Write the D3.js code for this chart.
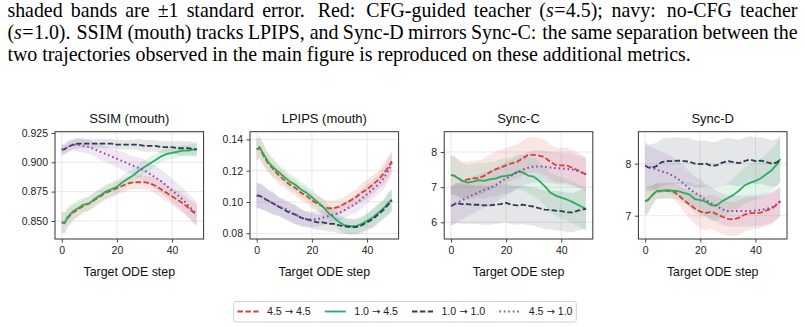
<!DOCTYPE html>
<html><head><meta charset="utf-8">
<script src="https://cdn.jsdelivr.net/npm/d3@7"></script>
<style>body{margin:0;background:#fff}svg{display:block}</style>
</head><body><svg id="c" width="805" height="327"></svg>
<script>
// ---------------- data ----------------
const steps = [0,1,2,4,6,8,10,12,14,16,18,20,22,24,26,28,30,32,34,36,38,40,42,44,46,48,49];
const seriesFrom = ["4.5","1.0","1.0","4.5"];
const seriesTo   = ["4.5","4.5","1.0","1.0"];
const panelTitles = ["SSIM (mouth)","LPIPS (mouth)","Sync-C","Sync-D"];
const xLabel = "Target ODE step";
const xTicks = [0,20,40];
const ssimTicks = [0.850,0.875,0.900,0.925];
const lpipsTicks = [0.08,0.10,0.12,0.14];
const syncCTicks = [6,7,8];
const syncDTicks = [7,8];

const ssimRed    = [0.849,0.848,0.852,0.857,0.860,0.863,0.865,0.868,0.871,0.874,0.876,0.878,0.880,0.882,0.883,0.883,0.883,0.882,0.880,0.877,0.874,0.871,0.868,0.865,0.861,0.857,0.855];
const ssimGreen  = [0.849,0.848,0.853,0.858,0.861,0.864,0.865,0.869,0.872,0.875,0.877,0.879,0.883,0.886,0.889,0.893,0.896,0.899,0.902,0.905,0.907,0.908,0.909,0.910,0.910,0.911,0.911];
const ssimNavy   = [0.911,0.911,0.913,0.915,0.916,0.916,0.916,0.916,0.916,0.916,0.916,0.915,0.915,0.915,0.915,0.915,0.914,0.914,0.914,0.913,0.913,0.913,0.912,0.912,0.912,0.911,0.911];
const ssimPurple = [0.911,0.911,0.913,0.915,0.915,0.914,0.913,0.911,0.909,0.907,0.905,0.903,0.901,0.899,0.897,0.895,0.893,0.890,0.887,0.884,0.880,0.876,0.872,0.868,0.863,0.858,0.856];
const ssimRedSe    = [0.009,0.009,0.008,0.007,0.006,0.006,0.006,0.006,0.006,0.006,0.006,0.006,0.006,0.006,0.006,0.006,0.006,0.006,0.007,0.007,0.007,0.007,0.008,0.008,0.008,0.009,0.009];
const ssimGreenSe  = [0.009,0.009,0.008,0.007,0.007,0.006,0.006,0.006,0.006,0.006,0.006,0.006,0.006,0.006,0.006,0.006,0.006,0.006,0.005,0.005,0.005,0.005,0.005,0.005,0.005,0.005,0.005];
const ssimNavySe   = [0.004,0.004,0.004,0.004,0.004,0.004,0.004,0.004,0.004,0.004,0.004,0.004,0.004,0.004,0.004,0.005,0.005,0.005,0.005,0.005,0.005,0.005,0.006,0.006,0.006,0.006,0.006];
const ssimPurpleSe = [0.005,0.005,0.005,0.005,0.006,0.006,0.006,0.006,0.007,0.007,0.007,0.007,0.008,0.008,0.008,0.009,0.009,0.009,0.010,0.010,0.010,0.010,0.010,0.010,0.010,0.010,0.010];

const lpipsRed    = [0.1335,0.1345,0.131,0.125,0.121,0.117,0.114,0.111,0.109,0.106,0.104,0.101,0.099,0.097,0.096,0.096,0.097,0.099,0.101,0.103,0.106,0.108,0.111,0.114,0.118,0.123,0.126];
const lpipsGreen  = [0.1335,0.1352,0.132,0.126,0.122,0.119,0.116,0.113,0.111,0.108,0.106,0.103,0.100,0.097,0.093,0.090,0.087,0.085,0.0845,0.0845,0.086,0.088,0.090,0.093,0.096,0.100,0.1015];
const lpipsNavy   = [0.104,0.104,0.103,0.101,0.099,0.097,0.095,0.093,0.092,0.090,0.089,0.088,0.087,0.087,0.086,0.086,0.085,0.0845,0.084,0.084,0.085,0.087,0.089,0.092,0.095,0.099,0.101];
const lpipsPurple = [0.104,0.104,0.103,0.101,0.099,0.097,0.096,0.094,0.092,0.090,0.089,0.089,0.089,0.090,0.091,0.092,0.093,0.095,0.097,0.099,0.102,0.105,0.108,0.111,0.115,0.121,0.125];
const lpipsRedSe    = [0.007,0.007,0.007,0.006,0.006,0.006,0.005,0.005,0.005,0.005,0.005,0.005,0.005,0.005,0.005,0.005,0.005,0.005,0.005,0.005,0.006,0.006,0.006,0.006,0.007,0.007,0.007];
const lpipsGreenSe  = [0.007,0.007,0.007,0.006,0.006,0.005,0.005,0.005,0.005,0.005,0.005,0.005,0.005,0.005,0.005,0.005,0.005,0.005,0.005,0.005,0.005,0.005,0.006,0.006,0.006,0.007,0.007];
const lpipsNavySe   = [0.008,0.008,0.008,0.007,0.007,0.006,0.006,0.006,0.006,0.005,0.005,0.005,0.005,0.005,0.005,0.005,0.005,0.005,0.005,0.005,0.005,0.005,0.006,0.006,0.006,0.007,0.007];
const lpipsPurpleSe = [0.008,0.008,0.008,0.007,0.007,0.006,0.006,0.006,0.006,0.006,0.005,0.005,0.005,0.005,0.005,0.005,0.005,0.005,0.005,0.006,0.006,0.006,0.006,0.006,0.007,0.007,0.007];

const syncCRed    = [7.35,7.33,7.30,7.18,7.22,7.25,7.26,7.32,7.42,7.50,7.56,7.62,7.68,7.72,7.82,7.92,7.92,7.90,7.85,7.72,7.63,7.62,7.62,7.55,7.48,7.40,7.36];
const syncCGreen  = [7.35,7.33,7.28,7.18,7.13,7.16,7.20,7.18,7.22,7.24,7.30,7.32,7.35,7.44,7.42,7.33,7.30,7.18,7.03,6.85,6.76,6.70,6.65,6.58,6.50,6.42,6.37];
const syncCNavy   = [6.47,6.50,6.55,6.52,6.52,6.50,6.50,6.48,6.48,6.50,6.52,6.55,6.50,6.48,6.50,6.47,6.45,6.40,6.36,6.35,6.33,6.32,6.28,6.28,6.33,6.37,6.38];
const syncCPurple = [6.47,6.50,6.55,6.62,6.70,6.78,6.85,6.92,6.97,7.05,7.15,7.25,7.33,7.42,7.50,7.55,7.59,7.59,7.58,7.56,7.54,7.53,7.52,7.50,7.46,7.40,7.37];
const syncCRedSe    = [0.55,0.55,0.54,0.52,0.50,0.50,0.50,0.50,0.50,0.50,0.50,0.50,0.50,0.50,0.50,0.50,0.50,0.50,0.50,0.50,0.50,0.50,0.50,0.50,0.50,0.50,0.50];
const syncCGreenSe  = [0.55,0.55,0.54,0.52,0.50,0.50,0.50,0.50,0.50,0.50,0.50,0.50,0.50,0.50,0.50,0.52,0.54,0.55,0.56,0.57,0.58,0.58,0.59,0.60,0.60,0.60,0.60];
const syncCNavySe   = [0.57,0.57,0.57,0.56,0.56,0.55,0.55,0.55,0.55,0.55,0.55,0.55,0.55,0.55,0.55,0.55,0.55,0.55,0.55,0.55,0.56,0.56,0.56,0.56,0.56,0.56,0.56];
const syncCPurpleSe = [0.55,0.55,0.55,0.54,0.53,0.52,0.51,0.50,0.50,0.49,0.48,0.47,0.46,0.45,0.45,0.45,0.45,0.45,0.45,0.45,0.45,0.45,0.45,0.45,0.45,0.45,0.45];

const syncDRed    = [7.28,7.30,7.36,7.47,7.47,7.48,7.47,7.40,7.30,7.22,7.14,7.08,7.05,7.08,7.03,6.98,6.94,6.93,6.96,7.02,7.05,7.05,7.06,7.10,7.14,7.22,7.28];
const syncDGreen  = [7.28,7.30,7.36,7.47,7.48,7.49,7.48,7.47,7.44,7.41,7.32,7.30,7.27,7.20,7.20,7.28,7.34,7.40,7.48,7.58,7.63,7.67,7.72,7.80,7.88,8.00,8.09];
const syncDNavy   = [7.96,7.93,7.92,7.95,8.03,8.05,8.05,8.06,8.05,8.04,8.00,7.99,8.00,7.96,7.97,8.02,8.05,8.03,8.01,8.05,8.08,8.05,8.06,8.03,8.00,8.03,8.09];
const syncDPurple = [7.96,7.95,7.93,7.89,7.85,7.82,7.77,7.70,7.62,7.52,7.44,7.38,7.30,7.24,7.18,7.12,7.09,7.09,7.09,7.09,7.09,7.10,7.11,7.13,7.16,7.23,7.28];
const syncDRedSe    = [0.25,0.25,0.20,0.15,0.15,0.15,0.15,0.18,0.22,0.26,0.30,0.32,0.33,0.33,0.33,0.33,0.33,0.33,0.33,0.32,0.32,0.30,0.30,0.30,0.30,0.28,0.28];
const syncDGreenSe  = [0.28,0.27,0.22,0.15,0.15,0.15,0.15,0.17,0.20,0.24,0.27,0.30,0.30,0.30,0.30,0.30,0.30,0.32,0.33,0.35,0.36,0.37,0.38,0.39,0.40,0.42,0.42];
const syncDNavySe   = [0.45,0.45,0.45,0.45,0.45,0.45,0.45,0.45,0.45,0.45,0.45,0.45,0.45,0.45,0.45,0.45,0.45,0.45,0.45,0.45,0.45,0.45,0.45,0.45,0.45,0.45,0.45];
const syncDPurpleSe = [0.40,0.40,0.40,0.39,0.38,0.37,0.36,0.35,0.34,0.33,0.32,0.32,0.31,0.31,0.30,0.30,0.30,0.30,0.30,0.30,0.30,0.30,0.30,0.30,0.30,0.30,0.30];

const captionLines = [
  ["shaded","bands","are","\u00b11","standard","error.","Red:","CFG-guided","teacher","(|s|=4.5);","navy:","no-CFG","teacher"],
  ["(|s|=1.0).","SSIM","(mouth)","tracks","LPIPS,","and","Sync-D","mirrors","Sync-C:","the","same","separation","between","the"],
  ["two","trajectories","observed","in","the","main","figure","is","reproduced","on","these","additional","metrics."]
];

// ---------------- styles / layout ----------------
const colors = ["#d8412f","#27ae60","#2c3e50","#8e44ad"];
const dashes = ["5.5,2.4",null,"5.5,2.4","1.6,2.9"];
const lineW = [1.8,1.8,1.8,2.0];
const sansFont = "'Liberation Sans', Arial, Helvetica, sans-serif";
const serifFont = "'Liberation Serif', 'Times New Roman', Times, serif";

const panels = [
  {title:panelTitles[0], domain:[0.8346,0.9261], ticks:ssimTicks, fmt:d3.format(".3f"),
   mean:[ssimRed,ssimGreen,ssimNavy,ssimPurple], se:[ssimRedSe,ssimGreenSe,ssimNavySe,ssimPurpleSe]},
  {title:panelTitles[1], domain:[0.07636,0.1449], ticks:lpipsTicks, fmt:d3.format(".2f"),
   mean:[lpipsRed,lpipsGreen,lpipsNavy,lpipsPurple], se:[lpipsRedSe,lpipsGreenSe,lpipsNavySe,lpipsPurpleSe]},
  {title:panelTitles[2], domain:[5.525,8.578], ticks:syncCTicks, fmt:d3.format("d"),
   mean:[syncCRed,syncCGreen,syncCNavy,syncCPurple], se:[syncCRedSe,syncCGreenSe,syncCNavySe,syncCPurpleSe]},
  {title:panelTitles[3], domain:[6.552,8.615], ticks:syncDTicks, fmt:d3.format("d"),
   mean:[syncDRed,syncDGreen,syncDNavy,syncDPurple], se:[syncDRedSe,syncDGreenSe,syncDNavySe,syncDPurpleSe]}
];
const lefts = [55, 250, 444.2, 638.4];
const plotW = 148.6, plotTop = 131.7, plotBottom = 239;

const svg = d3.select("#c");

// ---------------- caption ----------------
(function caption(){
  const fs = 19.9, x0 = 7.4, x1 = 797.5, baselines = [16.8, 38.8, 60.6];
  const g = svg.append("g").attr("font-family", serifFont).attr("font-size", fs).attr("fill","#000");
  captionLines.forEach((words, li) => {
    const els = words.map(w => {
      const t = g.append("text").attr("y", baselines[li]);
      w.split("|").forEach((seg, si) => {
        const it = si % 2 === 1;
        const parts = seg.split(/(=)/).filter(s => s.length);
        parts.forEach((p, pi) => {
          const ts = t.append("tspan").text(p);
          if (it) ts.attr("font-style","italic");
          if (p === "=" || (pi > 0 && parts[pi-1] === "=")) ts.attr("dx", 0.5);
        });
      });
      return t;
    });
    const widths = els.map(e => e.node().getComputedTextLength());
    const weight = w => /\.$/.test(w) ? 1.6 : /:$/.test(w) ? 1.35 : /;$/.test(w) ? 1.2 : /,$/.test(w) ? 1.1 : 1;
    const natGap = fs * 0.25;
    let gaps;
    if (li < 2) {
      const wsum = d3.sum(words.slice(0, -1), weight);
      const unit = (x1 - x0 - d3.sum(widths)) / wsum;
      gaps = words.map(w => weight(w) * unit);
    } else {
      gaps = words.map(w => natGap * weight(w));
    }
    let x = x0;
    els.forEach((e, i) => { e.attr("x", x); x += widths[i] + gaps[i]; });
  });
})();

// ---------------- panels ----------------
panels.forEach((p, pi) => {
  const L = lefts[pi];
  const x = d3.scaleLinear().domain([-2.45, 51.45]).range([L, L + plotW]);
  const y = d3.scaleLinear().domain(p.domain).range([plotBottom, plotTop]);
  const g = svg.append("g");
  const clipId = "clip" + pi;
  g.append("clipPath").attr("id", clipId).append("rect")
    .attr("x", L).attr("y", plotTop).attr("width", plotW).attr("height", plotBottom - plotTop);

  const grid = g.append("g").attr("stroke", "#e3e3e3").attr("stroke-width", 0.8);
  xTicks.forEach(t => grid.append("line").attr("x1", x(t)).attr("x2", x(t)).attr("y1", plotTop).attr("y2", plotBottom));
  p.ticks.forEach(t => grid.append("line").attr("x1", L).attr("x2", L + plotW).attr("y1", y(t)).attr("y2", y(t)));

  const body = g.append("g").attr("clip-path", `url(#${clipId})`);
  p.mean.forEach((m, si) => {
    const se = p.se[si];
    const area = d3.area().x((d, i) => x(steps[i])).y0((d, i) => y(m[i] - se[i])).y1((d, i) => y(m[i] + se[i]));
    body.append("path").attr("d", area(m)).attr("fill", colors[si]).attr("fill-opacity", 0.13).attr("stroke","none");
  });
  p.mean.forEach((m, si) => {
    const line = d3.line().x((d, i) => x(steps[i])).y(d => y(d));
    const path = body.append("path").attr("d", line(m)).attr("fill","none")
      .attr("stroke", colors[si]).attr("stroke-width", lineW[si]).attr("stroke-linejoin","round");
    if (dashes[si]) path.attr("stroke-dasharray", dashes[si]);
  });

  const xa = d3.axisBottom(x).tickValues(xTicks).tickSize(3.5).tickPadding(3.5);
  const ya = d3.axisLeft(y).tickValues(p.ticks).tickFormat(p.fmt).tickSize(3.5).tickPadding(3.5);
  const gx = g.append("g").attr("transform", `translate(0,${plotBottom})`).call(xa);
  const gy = g.append("g").attr("transform", `translate(${L},0)`).call(ya);
  [gx, gy].forEach(a => {
    a.select(".domain").remove();
    a.selectAll(".tick line").attr("stroke", "#333").attr("stroke-width", 0.9);
    a.selectAll(".tick text").attr("fill", "#222").attr("font-family", sansFont).attr("font-size", 10.5);
  });
  gx.selectAll(".tick text").attr("dy", "0.75em");

  g.append("rect").attr("x", L).attr("y", plotTop).attr("width", plotW).attr("height", plotBottom - plotTop)
    .attr("fill","none").attr("stroke","#333").attr("stroke-width", 1);

  g.append("text").attr("x", L + plotW/2).attr("y", 123.4).attr("text-anchor","middle")
    .attr("font-family", sansFont).attr("font-size", 13).attr("fill","#111").text(p.title);
  g.append("text").attr("x", L + plotW/2).attr("y", 276).attr("text-anchor","middle")
    .attr("font-family", sansFont).attr("font-size", 12.4).attr("fill","#111").text(xLabel);
});

// ---------------- legend ----------------
(function legend(){
  const fsL = 10.6;
  const g = svg.append("g").attr("font-family", sansFont).attr("font-size", fsL);
  const box = g.append("rect").attr("y", 301.5).attr("height", 20.5).attr("rx", 2)
    .attr("fill","#fff").attr("stroke","#cccccc").attr("stroke-width", 0.9);
  const handleL = 21, gapHT = 8.5, colGap = 14, pad = 3.8, cy = 311.5;
  const items = seriesFrom.map((f, i) => {
    const t = g.append("text").attr("y", cy).attr("dy","0.35em").attr("fill","#222");
    t.append("tspan").text(f + " ");
    t.append("tspan").attr("font-family","'DejaVu Sans', sans-serif").attr("font-size", fsL - 0.6).text("\u2192");
    t.append("tspan").text(" " + seriesTo[i]);
    return {t, w: t.node().getComputedTextLength(), i};
  });
  const total = pad*2 + d3.sum(items, it => handleL + gapHT + it.w) + colGap*(items.length-1);
  let x = 405 - total/2;
  box.attr("x", x).attr("width", total);
  x += pad;
  items.forEach(it => {
    const l = g.append("line").attr("x1", x).attr("x2", x + handleL).attr("y1", cy).attr("y2", cy)
      .attr("stroke", colors[it.i]).attr("stroke-width", lineW[it.i]);
    if (dashes[it.i]) l.attr("stroke-dasharray", dashes[it.i]);
    it.t.attr("x", x + handleL + gapHT);
    x += handleL + gapHT + it.w + colGap;
  });
})();
</script>
</body></html>
